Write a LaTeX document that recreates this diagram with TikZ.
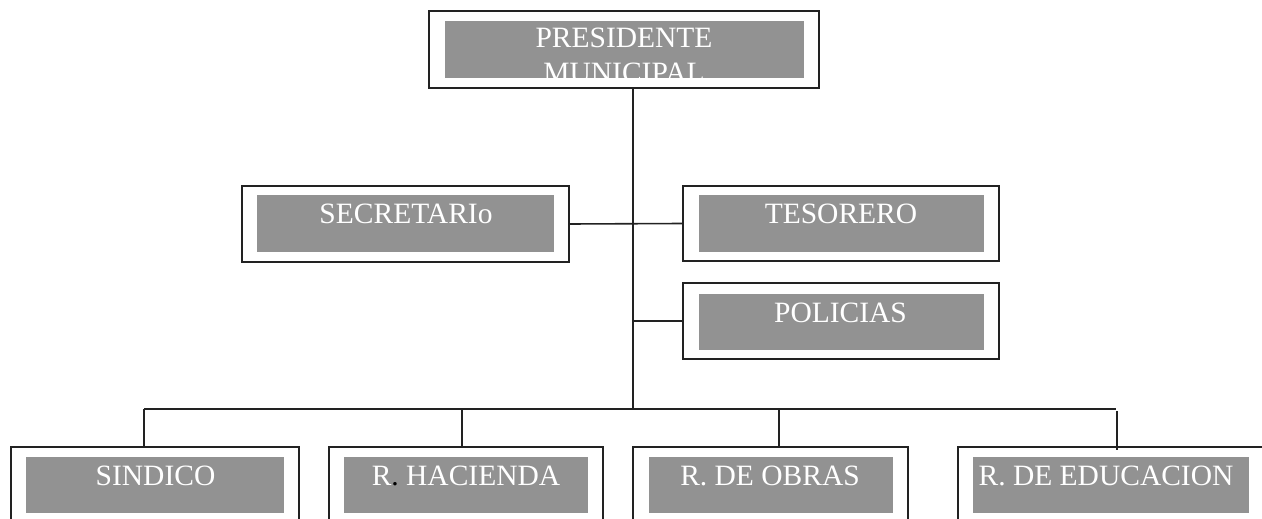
\documentclass[tikz,border=0pt]{standalone}
\usepackage{fontspec}
\setmainfont{Liberation Serif}
\definecolor{linec}{HTML}{222222}
\definecolor{fillc}{HTML}{929292}
\begin{document}
\begin{tikzpicture}[x=1pt,y=-1pt,
  obox/.style={draw=linec,line width=2pt,fill=white,rectangle,inner sep=0pt,outer sep=0pt},
  gbox/.style={fill=fillc,draw=none,rectangle,inner sep=0pt,outer sep=0pt},
  lbl/.style={text=white,anchor=base,inner sep=0pt,font=\fontsize{29.5}{34}\selectfont},
  conn/.style={draw=linec,line width=1.6pt}]
\clip (0,0) rectangle (1262,519);
\fill[white] (0,0) rectangle (1262,519);
% outer boxes
\node[obox,minimum width=390pt,minimum height=77pt] (pres) at (624,49.5) {};
\node[obox,minimum width=327pt,minimum height=76pt] (sec) at (405.5,224) {};
\node[obox,minimum width=316pt,minimum height=75pt] (tes) at (841,223.5) {};
\node[obox,minimum width=316pt,minimum height=76pt] (pol) at (841,321) {};
\node[obox,minimum width=288pt,minimum height=80pt] (sin) at (155,487) {};
\node[obox,minimum width=274pt,minimum height=80pt] (hac) at (466,487) {};
\node[obox,minimum width=275pt,minimum height=80pt] (obr) at (770.5,487) {};
\node[obox,minimum width=330pt,minimum height=80pt] (edu) at (1123,487) {};
% gray inner boxes
\node[gbox,minimum width=359pt,minimum height=57pt] (presg) at (624.5,49.5) {};
\node[gbox,minimum width=297pt,minimum height=57pt] (secg) at (405.5,223.5) {};
\node[gbox,minimum width=285pt,minimum height=57pt] (tesg) at (841.5,223.5) {};
\node[gbox,minimum width=285pt,minimum height=56pt] (polg) at (841.5,322) {};
\node[gbox,minimum width=258pt,minimum height=56pt] (sing) at (155,485) {};
\node[gbox,minimum width=244pt,minimum height=56pt] (hacg) at (466,485) {};
\node[gbox,minimum width=244pt,minimum height=56pt] (obrg) at (771,485) {};
\node[gbox,minimum width=276pt,minimum height=56pt] (edug) at (1111,485) {};
% labels
\begin{scope}
\clip (presg.south west) rectangle (presg.north east);
\node[lbl] (presl1) at (624,48) {PRESIDENTE};
\node[lbl] (presl2) at (624,82.5) {MUNICIPAL};
\end{scope}
\node[lbl] (secl) at (406,223) {SECRETARIo};
\node[lbl] (tesl) at (841,223) {TESORERO};
\node[lbl] (poll) at (840.5,322) {POLICIAS};
\node[lbl] (sinl) at (155.5,485) {SINDICO};
\node[lbl] (hacl) at (466,485) {R{\color{black}.} HACIENDA};
\node[lbl] (obrl) at (770,485) {R. DE OBRAS};
\node[lbl] (edul) at (1106,485) {R. DE EDUCACION};
% connectors
\coordinate (trunk) at (633,409);
\coordinate (bl) at (144,409);
\coordinate (br) at (1116,409);
\coordinate (hv) at (462,409);
\coordinate (ov) at (779,409);
\coordinate (ev) at (1117,411);
\coordinate (evend) at (1117,450);
\draw[conn] (pres.south -| trunk) -- (trunk);
\draw[conn] (sec.east) -- (tes.west);
\draw[conn] (pol.west) -- (pol.west -| trunk);
\draw[conn] (bl) -- (br);
\draw[conn] (bl) -- (bl |- sin.north);
\draw[conn] (hv) -- (hv |- hac.north);
\draw[conn] (ov) -- (ov |- obr.north);
\draw[conn] (ev) -- (evend);
\end{tikzpicture}
\end{document}
